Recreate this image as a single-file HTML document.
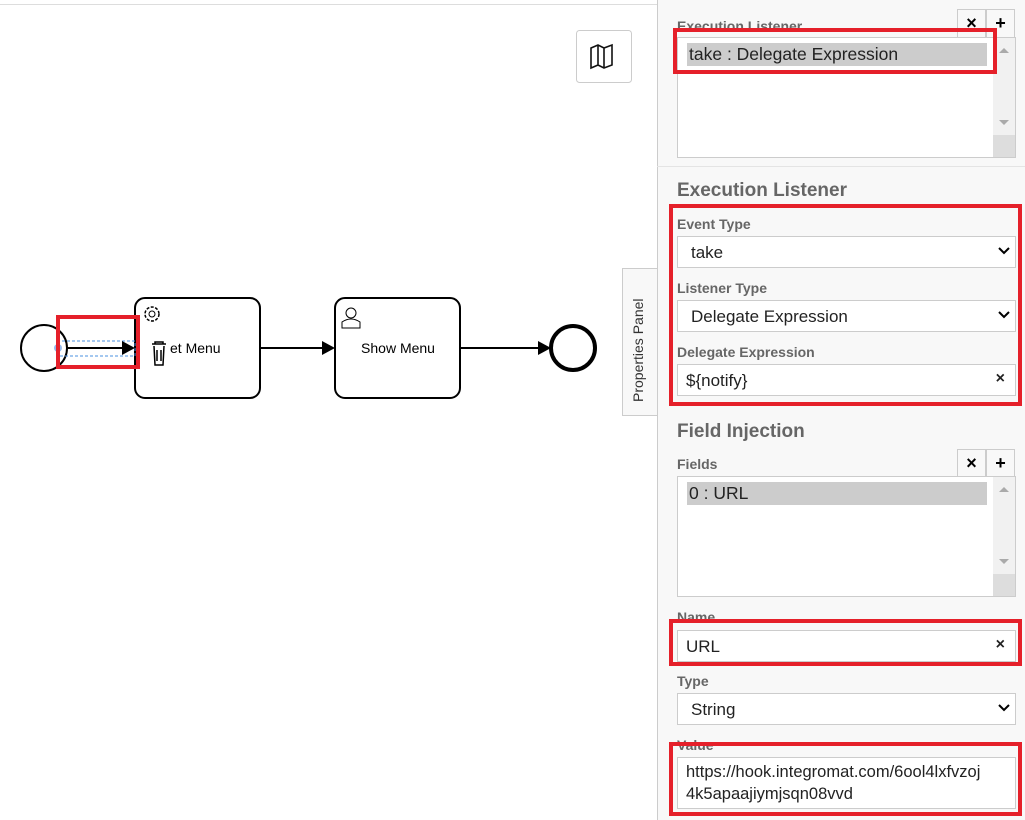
<!DOCTYPE html>
<html><head><meta charset="utf-8"><style>
*{box-sizing:border-box;margin:0;padding:0}
body{width:1025px;height:820px;overflow:hidden;background:#fff;font-family:"Liberation Sans",Arial,sans-serif;position:relative}
.a{position:absolute}
.lbl{position:absolute;left:677px;font-size:14px;font-weight:bold;color:#666}
.h{position:absolute;left:677px;font-size:19px;font-weight:bold;color:#666}
.box{position:absolute;left:677px;width:339px;background:#fff;border:1px solid #ccc;font-size:17px;color:#222}
.red{position:absolute;border:4px solid #e5202a}
.btn{position:absolute;width:29px;height:29px;border:1px solid #ccc;background:#f8f8f8;font-size:18px;font-weight:bold;text-align:center;line-height:26px;color:#000}
.chev{position:absolute;right:5px;top:10px}
.sel{position:absolute;left:9px;top:5px;width:300px;height:23px;background:#ccc;padding-left:2px;line-height:23px;font-size:17.5px}
.sb{position:absolute;right:0;top:0;width:22px;height:100%;background:#f1f1f1}
.up{position:absolute;right:6px;top:10px;width:0;height:0;border-left:5px solid transparent;border-right:5px solid transparent;border-bottom:5px solid #aaa}
.dn{position:absolute;right:6px;bottom:32px;width:0;height:0;border-left:5px solid transparent;border-right:5px solid transparent;border-top:5px solid #aaa}
.gr{position:absolute;right:0;bottom:0;width:22px;height:22px;background:#ddd}
</style></head><body>
<div class="a" style="left:0;top:4px;width:657px;height:1px;background:#ddd"></div>
<svg class="a" style="left:0;top:0" width="657" height="820">
<rect x="576.5" y="30.5" width="55" height="52" rx="3" fill="#fff" stroke="#ccc"/>
<path d="M591 48 L598 45 L604 48 L612 45 L612 65 L604 68 L598 65 L591 68 Z M598 45 V65 M604 48 V68" fill="none" stroke="#111" stroke-width="1.6"/>
<circle cx="44" cy="348" r="23" fill="#fff" stroke="#000" stroke-width="2"/>
<rect x="135" y="298" width="125" height="100" rx="10" fill="#fff" stroke="#000" stroke-width="2"/>
<rect x="335" y="298" width="125" height="100" rx="10" fill="#fff" stroke="#000" stroke-width="2"/>
<circle cx="573" cy="348" r="22" fill="#fff" stroke="#000" stroke-width="4"/>
<rect x="57" y="341" width="78" height="15" fill="none" stroke="#4a90e2" stroke-dasharray="3,2"/>
<line x1="67" y1="348" x2="122" y2="348" stroke="#000" stroke-width="2"/>
<path d="M122 341 L135 348 L122 355Z" fill="#000"/>
<circle cx="58" cy="348" r="4" fill="#7aa9e8" opacity=".8"/>
<line x1="260" y1="348" x2="322" y2="348" stroke="#000" stroke-width="2"/>
<path d="M322 341 L335 348 L322 355Z" fill="#000"/>
<line x1="460" y1="348" x2="538" y2="348" stroke="#000" stroke-width="2"/>
<path d="M538 341 L551 348 L538 355Z" fill="#000"/>
<text x="170" y="353" font-size="14" font-family="Liberation Sans,sans-serif">et Menu</text>
<text x="398" y="353" font-size="14" font-family="Liberation Sans,sans-serif" text-anchor="middle">Show Menu</text>
<circle cx="152" cy="314" r="7" fill="none" stroke="#000" stroke-width="1.5" stroke-dasharray="3,1.5"/>
<circle cx="152" cy="314" r="3" fill="none" stroke="#000"/>
<path d="M152 344 h14 M155 344 v-2 h8 v2 M154 346 l1 19 h8 l1 -19 M157 350 v11 M161 350 v11" fill="none" stroke="#000" stroke-width="1.5"/>
<circle cx="351" cy="313" r="5" fill="none" stroke="#000"/>
<path d="M342 328 v-6 q9 -6 18 0 v6 z" fill="none" stroke="#000"/>
</svg>
<div class="red" style="left:56px;top:315px;width:84px;height:54px"></div>
<div class="a" style="left:622px;top:268px;width:36px;height:148px;background:#f8f8f8;border:1px solid #ccc;border-right:none"></div>
<div class="a" style="left:630px;top:402px;transform:rotate(-90deg);transform-origin:0 0;font-size:14px;color:#333;white-space:nowrap">Properties Panel</div>
<div class="a" style="left:657px;top:0;width:368px;height:820px;background:#f8f8f8;border-left:1px solid #ccc"></div>
<div class="a" style="left:657px;top:166px;width:368px;height:1px;background:#e4e4e4"></div>
<div class="lbl" style="top:18px">Execution Listener</div>
<div class="btn" style="left:957px;top:9px">×</div><div class="btn" style="left:986px;top:9px">+</div>
<div class="box" style="top:37px;height:121px"><div class="sel">take : Delegate Expression</div><div class="sb"><div class="up"></div><div class="dn"></div><div class="gr"></div></div></div>
<div class="red" style="left:673px;top:28px;width:324px;height:46px"></div>
<div class="h" style="top:180px">Execution Listener</div>
<div class="lbl" style="top:216px">Event Type</div>
<div class="box" style="top:236px;height:32px;padding:6px 13px">take<svg class="chev" width="12" height="8"><path d="M1 1 L6 6 L11 1" fill="none" stroke="#000" stroke-width="2"/></svg></div>
<div class="lbl" style="top:280px">Listener Type</div>
<div class="box" style="top:300px;height:32px;padding:6px 13px">Delegate Expression<svg class="chev" width="12" height="8"><path d="M1 1 L6 6 L11 1" fill="none" stroke="#000" stroke-width="2"/></svg></div>
<div class="lbl" style="top:344px">Delegate Expression</div>
<div class="box" style="top:364px;height:32px;padding:6px 8px">${notify}<span class="a" style="right:10px;top:5px;font-weight:bold;font-size:16px">×</span></div>
<div class="red" style="left:669px;top:204px;width:353px;height:202px"></div>
<div class="h" style="top:421px">Field Injection</div>
<div class="lbl" style="top:456px">Fields</div>
<div class="btn" style="left:957px;top:449px">×</div><div class="btn" style="left:986px;top:449px">+</div>
<div class="box" style="top:476px;height:121px"><div class="sel">0 : URL</div><div class="sb"><div class="up"></div><div class="dn"></div><div class="gr"></div></div></div>
<div class="lbl" style="top:609px">Name</div>
<div class="box" style="top:630px;height:32px;padding:6px 8px">URL<span class="a" style="right:10px;top:5px;font-weight:bold;font-size:16px">×</span></div>
<div class="red" style="left:669px;top:619px;width:353px;height:47px"></div>
<div class="lbl" style="top:673px">Type</div>
<div class="box" style="top:693px;height:32px;padding:6px 13px">String<svg class="chev" width="12" height="8"><path d="M1 1 L6 6 L11 1" fill="none" stroke="#000" stroke-width="2"/></svg></div>
<div class="lbl" style="top:737px">Value</div>
<div class="box" style="top:757px;height:52px;padding:3px 8px;line-height:22px;font-size:16.5px">https://hook.integromat.com/6ool4lxfvzoj<br>4k5apaajiymjsqn08vvd</div>
<div class="red" style="left:669px;top:742px;width:353px;height:74px"></div>
</body></html>
